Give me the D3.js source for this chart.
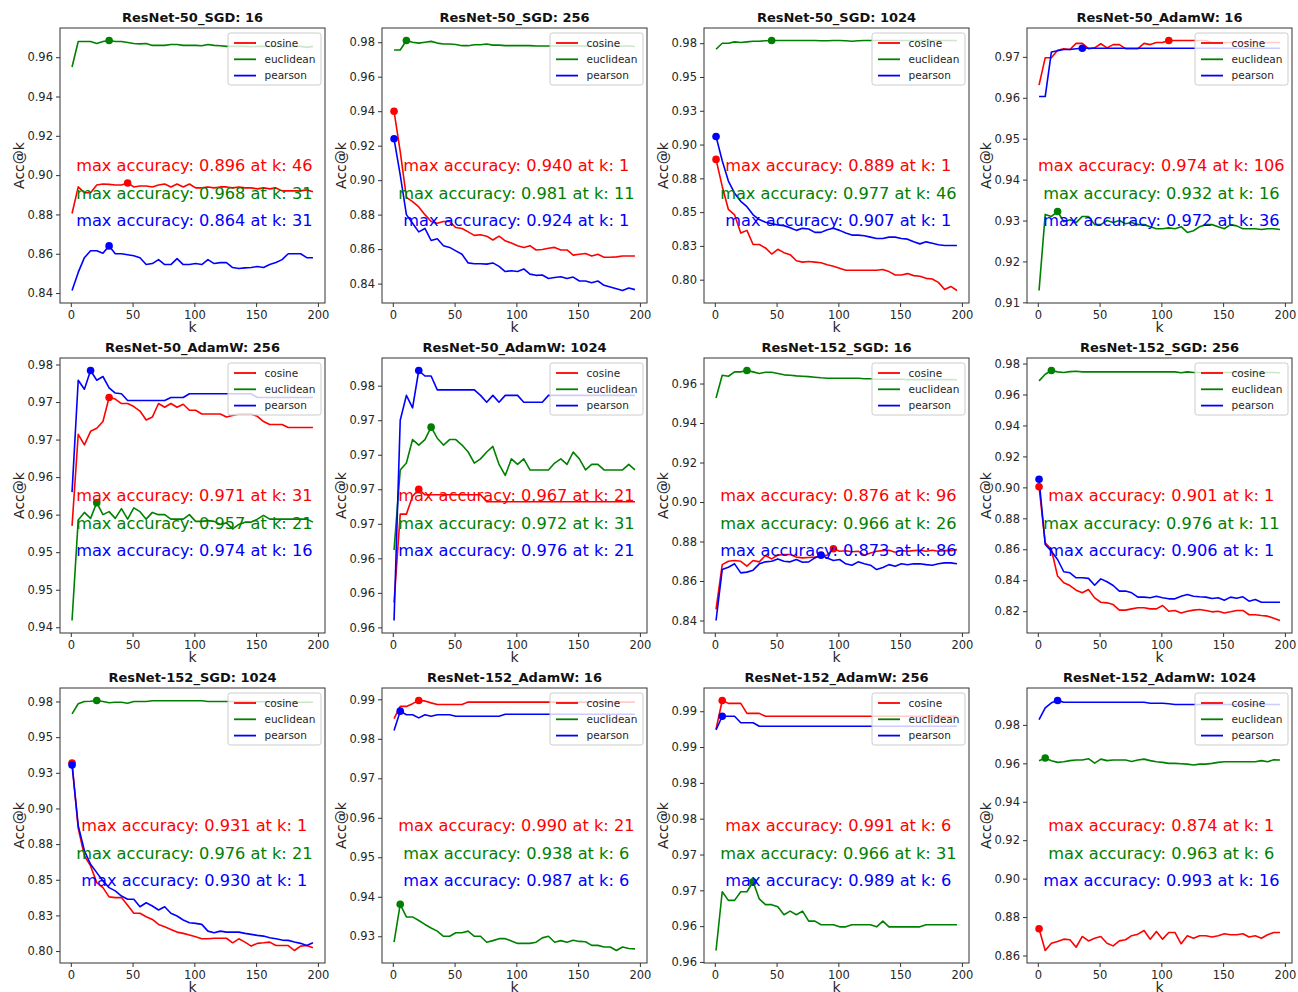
<!DOCTYPE html>
<html>
<head>
<meta charset="utf-8">
<script src="https://cdn.jsdelivr.net/npm/d3@7"></script>
<style>
  body { margin: 0; background: #fff; }
  svg { display: block; font-family: "DejaVu Sans", sans-serif; }
</style>
</head>
<body>
<div id="chart"></div>
<script>
// k values on the x axis
const kValues = [1, 6, 11, 16, 21, 26, 31, 36, 41, 46, 51, 56, 61, 66, 71, 76, 81, 86, 91, 96,
  101, 106, 111, 116, 121, 126, 131, 136, 141, 146, 151, 156, 161, 166, 171, 176, 181, 186, 191, 196];

const titles = [
  'ResNet-50_SGD: 16', 'ResNet-50_SGD: 256', 'ResNet-50_SGD: 1024', 'ResNet-50_AdamW: 16',
  'ResNet-50_AdamW: 256', 'ResNet-50_AdamW: 1024', 'ResNet-152_SGD: 16', 'ResNet-152_SGD: 256',
  'ResNet-152_SGD: 1024', 'ResNet-152_AdamW: 16', 'ResNet-152_AdamW: 256', 'ResNet-152_AdamW: 1024'
];

const seriesNames = ['cosine', 'euclidean', 'pearson'];

const cosine = [
  [0.8805,0.894,0.891,0.891,0.895,0.8955,0.8953,0.895,0.895,0.896,0.894,0.8945,0.8945,0.894,0.895,0.8955,0.894,0.8955,0.894,0.8955,
   0.8935,0.8935,0.894,0.8935,0.894,0.894,0.8935,0.894,0.8935,0.8935,0.893,0.8935,0.893,0.8935,0.892,0.892,0.892,0.892,0.8925,0.8915],
  [0.940,0.9165,0.890,0.8875,0.8845,0.880,0.876,0.875,0.876,0.876,0.8725,0.872,0.870,0.868,0.8683,0.8675,0.8653,0.8675,0.8648,0.8635,
   0.862,0.861,0.862,0.8595,0.8598,0.8605,0.861,0.8595,0.8595,0.8565,0.857,0.8575,0.856,0.857,0.8553,0.8553,0.8555,0.856,0.856,0.856],
  [0.889,0.869,0.852,0.848,0.8345,0.8365,0.826,0.826,0.8235,0.819,0.8225,0.820,0.8185,0.814,0.813,0.8135,0.813,0.8125,0.811,0.810,
   0.8085,0.807,0.807,0.807,0.807,0.807,0.807,0.8075,0.806,0.8035,0.8035,0.8045,0.803,0.8025,0.801,0.8005,0.798,0.7928,0.795,0.792],
  [0.9631,0.9698,0.9698,0.9716,0.972,0.9718,0.9733,0.9733,0.972,0.9722,0.9732,0.9722,0.973,0.973,0.972,0.972,0.972,0.9733,0.973,0.9735,
   0.9735,0.974,0.974,0.974,0.974,0.974,0.974,0.974,0.9735,0.9735,0.9735,0.9735,0.9735,0.9735,0.9735,0.9735,0.9735,0.9735,0.9735,0.9735],
  [0.9535,0.9657,0.9643,0.9661,0.9665,0.9674,0.9706,0.9704,0.9698,0.9698,0.9694,0.9688,0.9676,0.968,0.9698,0.9693,0.9698,0.9693,0.9697,0.9689,
   0.9689,0.9684,0.9684,0.9684,0.9684,0.968,0.9682,0.9684,0.9684,0.9684,0.9681,0.9674,0.967,0.967,0.967,0.9666,0.9666,0.9666,0.9666,0.9666],
  [0.9593,0.9657,0.9657,0.967,0.9675,0.9671,0.9671,0.9671,0.9671,0.9671,0.9671,0.9671,0.9671,0.9671,0.9671,0.9666,0.9666,0.9666,0.9666,0.9666,
   0.9666,0.9666,0.9666,0.9666,0.9666,0.9666,0.9666,0.9666,0.9666,0.9666,0.9666,0.9666,0.9666,0.9666,0.9666,0.9666,0.9666,0.9666,0.9666,0.9666],
  [0.8456,0.8683,0.87,0.8704,0.87,0.8675,0.8704,0.8697,0.8729,0.8712,0.8731,0.8734,0.8734,0.8721,0.8717,0.8719,0.8721,0.8726,0.8731,0.8763,
   0.8751,0.8753,0.8748,0.8751,0.8731,0.8742,0.8751,0.8754,0.8756,0.8746,0.8754,0.8751,0.8754,0.8756,0.8751,0.8756,0.8751,0.8754,0.8754,0.8759],
  [0.9004,0.8642,0.8599,0.8427,0.8384,0.8366,0.8336,0.8319,0.834,0.8286,0.8258,0.8254,0.8243,0.8207,0.8207,0.8215,0.8222,0.8222,0.8215,0.8215,
   0.8237,0.82,0.8205,0.8189,0.82,0.8207,0.8211,0.8205,0.8196,0.82,0.8189,0.8196,0.8205,0.8205,0.8177,0.8177,0.8172,0.8168,0.8155,0.814],
  [0.9319,0.886,0.8668,0.8597,0.848,0.8445,0.838,0.8375,0.8375,0.8321,0.8265,0.8265,0.8241,0.8222,0.8187,0.817,0.8152,0.8133,0.8124,0.8112,
   0.810,0.8086,0.8086,0.809,0.809,0.809,0.8058,0.8086,0.8063,0.8035,0.8054,0.8058,0.8063,0.8039,0.8039,0.8039,0.8004,0.8035,0.8039,0.8023],
  [0.9851,0.9882,0.9882,0.9889,0.9897,0.9896,0.9891,0.9887,0.9887,0.9887,0.9887,0.9887,0.9893,0.9893,0.9893,0.9893,0.9893,0.9893,0.9893,0.9893,
   0.9893,0.9893,0.9893,0.9893,0.9893,0.9893,0.9893,0.9893,0.9893,0.9893,0.9893,0.9893,0.9893,0.9893,0.9893,0.9893,0.9893,0.9893,0.9893,0.9893],
  [0.9875,0.9915,0.9911,0.9911,0.9911,0.9897,0.9897,0.9897,0.9893,0.9893,0.9893,0.9893,0.9893,0.9893,0.9893,0.9893,0.9893,0.9893,0.9893,0.9893,
   0.9893,0.9893,0.9893,0.9893,0.9893,0.9893,0.9893,0.9893,0.9893,0.9893,0.9893,0.9893,0.9893,0.9893,0.9893,0.9893,0.9893,0.9893,0.9893,0.9893],
  [0.8739,0.8626,0.8664,0.8673,0.8685,0.8682,0.8643,0.8699,0.8676,0.869,0.8699,0.8664,0.865,0.8676,0.8682,0.8703,0.8711,0.873,0.8685,0.8725,
   0.8685,0.872,0.872,0.8661,0.8703,0.869,0.8703,0.8703,0.8696,0.8703,0.8713,0.8708,0.8708,0.8713,0.8696,0.8703,0.869,0.8708,0.872,0.872]
];

const euclidean = [
  [0.955,0.968,0.968,0.968,0.967,0.968,0.9685,0.968,0.968,0.9675,0.967,0.9668,0.967,0.966,0.966,0.966,0.9665,0.9665,0.966,0.966,
   0.966,0.9658,0.9665,0.966,0.9658,0.9655,0.9655,0.9655,0.9655,0.9653,0.9655,0.9655,0.9655,0.9655,0.9653,0.9653,0.9655,0.9655,0.965,0.9655],
  [0.9755,0.9755,0.981,0.980,0.9795,0.980,0.9805,0.9795,0.979,0.979,0.9787,0.978,0.978,0.9785,0.9785,0.979,0.9783,0.9783,0.978,0.978,
   0.978,0.978,0.978,0.9778,0.9778,0.9778,0.9778,0.9778,0.9778,0.9778,0.9778,0.9778,0.9778,0.9778,0.9778,0.9778,0.9778,0.9778,0.9778,0.9775],
  [0.9705,0.975,0.975,0.976,0.9755,0.976,0.9765,0.9765,0.9768,0.977,0.977,0.977,0.977,0.977,0.977,0.977,0.977,0.9768,0.9768,0.977,
   0.977,0.9768,0.9765,0.9768,0.977,0.977,0.977,0.977,0.977,0.977,0.977,0.977,0.977,0.977,0.977,0.977,0.977,0.977,0.977,0.977],
  [0.9129,0.9315,0.931,0.9322,0.9297,0.9302,0.9295,0.931,0.931,0.929,0.929,0.930,0.9295,0.930,0.9292,0.9295,0.929,0.929,0.9285,0.928,
   0.928,0.9282,0.928,0.9285,0.9271,0.9275,0.9285,0.929,0.929,0.9285,0.928,0.929,0.9287,0.928,0.928,0.928,0.9278,0.928,0.928,0.9278],
  [0.9409,0.9543,0.9553,0.9545,0.9566,0.955,0.9554,0.9545,0.9558,0.9544,0.9559,0.9554,0.9544,0.9553,0.955,0.955,0.9544,0.9544,0.9544,0.955,
   0.9541,0.9541,0.9542,0.9541,0.9537,0.9539,0.9531,0.9537,0.954,0.954,0.9544,0.9549,0.9544,0.9544,0.9544,0.9544,0.9544,0.9544,0.9544,0.954],
  [0.9631,0.9689,0.9694,0.9711,0.9707,0.9711,0.972,0.9712,0.9707,0.9711,0.9711,0.9707,0.9702,0.9694,0.9697,0.9702,0.9706,0.9693,0.9685,0.9697,
   0.9693,0.9697,0.9689,0.9689,0.9689,0.9689,0.9694,0.9697,0.9693,0.9702,0.9697,0.9689,0.9693,0.9693,0.9689,0.9689,0.9689,0.9689,0.9693,0.9689],
  [0.9527,0.9642,0.9637,0.9659,0.9659,0.9666,0.9659,0.9651,0.9657,0.9657,0.9651,0.9644,0.9642,0.9639,0.9637,0.9635,0.9632,0.9629,0.9627,0.9627,
   0.9627,0.9627,0.9627,0.9627,0.9624,0.9624,0.9622,0.9622,0.9622,0.9622,0.9622,0.962,0.962,0.962,0.962,0.962,0.962,0.962,0.962,0.9619],
  [0.9688,0.9731,0.9755,0.9746,0.9742,0.9748,0.975,0.9746,0.9746,0.9746,0.9746,0.9746,0.9746,0.9746,0.9746,0.9746,0.9746,0.9746,0.9746,0.9746,
   0.9746,0.9746,0.9746,0.974,0.9746,0.9742,0.9742,0.9742,0.9742,0.9742,0.9742,0.9742,0.9742,0.9742,0.9742,0.9742,0.9742,0.9742,0.9742,0.974],
  [0.9663,0.9734,0.975,0.9752,0.9757,0.975,0.9741,0.9745,0.9745,0.9738,0.975,0.975,0.975,0.9755,0.9755,0.9755,0.9755,0.9755,0.9755,0.9755,
   0.9755,0.9755,0.975,0.975,0.975,0.975,0.975,0.975,0.975,0.975,0.9748,0.9748,0.9748,0.9748,0.9748,0.9748,0.9745,0.9745,0.9745,0.9745],
  [0.9285,0.9381,0.9349,0.9349,0.934,0.933,0.9321,0.9313,0.93,0.93,0.9309,0.9309,0.9313,0.93,0.93,0.9285,0.9289,0.9294,0.9294,0.9288,
   0.9282,0.9282,0.9282,0.9285,0.9296,0.93,0.9285,0.9289,0.9285,0.929,0.9287,0.9286,0.9277,0.9277,0.9273,0.9273,0.9264,0.9273,0.9269,0.9268],
  [0.9566,0.9648,0.9636,0.9636,0.9648,0.9648,0.9662,0.9638,0.963,0.963,0.9627,0.9616,0.9621,0.9616,0.9621,0.9607,0.9607,0.9602,0.9602,0.9602,
   0.9599,0.9599,0.9602,0.9602,0.9602,0.9602,0.9599,0.9607,0.9599,0.9599,0.9599,0.9599,0.9599,0.9599,0.9602,0.9602,0.9602,0.9602,0.9602,0.9602],
  [0.9614,0.9628,0.9614,0.9605,0.9608,0.9614,0.9617,0.9617,0.9624,0.9601,0.9622,0.9614,0.9617,0.9617,0.9617,0.961,0.9617,0.9622,0.9614,0.9608,
   0.9605,0.96,0.96,0.9598,0.9596,0.9591,0.9596,0.9596,0.96,0.9605,0.9608,0.9608,0.9608,0.9608,0.9608,0.9608,0.9614,0.9608,0.9619,0.9617]
];

const pearson = [
  [0.8413,0.8505,0.858,0.8615,0.8615,0.8603,0.864,0.860,0.860,0.8595,0.859,0.858,0.8545,0.855,0.857,0.8545,0.8545,0.8575,0.8545,0.8545,
   0.855,0.8545,0.857,0.855,0.8555,0.8555,0.853,0.8525,0.8528,0.853,0.8535,0.853,0.8545,0.8555,0.857,0.860,0.860,0.860,0.858,0.858],
  [0.924,0.903,0.880,0.875,0.870,0.872,0.865,0.866,0.862,0.861,0.859,0.857,0.852,0.8515,0.8515,0.8513,0.852,0.850,0.847,0.8475,
   0.847,0.8485,0.8455,0.8448,0.845,0.843,0.8435,0.844,0.843,0.8438,0.8415,0.8415,0.8405,0.8415,0.839,0.838,0.837,0.836,0.8375,0.8365],
  [0.906,0.888,0.873,0.864,0.858,0.854,0.848,0.8445,0.8425,0.8415,0.8405,0.840,0.8385,0.8365,0.838,0.8375,0.835,0.835,0.837,0.838,
   0.8365,0.8345,0.833,0.833,0.8325,0.8315,0.8305,0.8305,0.8315,0.8315,0.8305,0.830,0.828,0.8265,0.828,0.827,0.8258,0.8253,0.8253,0.8253],
  [0.9603,0.9603,0.9712,0.9715,0.9718,0.9718,0.972,0.9721,0.9721,0.9721,0.9721,0.9721,0.9721,0.9721,0.9721,0.9721,0.9721,0.9721,0.9721,0.9721,
   0.9721,0.9721,0.9721,0.9721,0.9721,0.9721,0.9721,0.9721,0.9721,0.9721,0.9721,0.9721,0.9721,0.9721,0.9721,0.9721,0.9721,0.9721,0.9721,0.9721],
  [0.958,0.9729,0.9717,0.9742,0.9729,0.9734,0.9719,0.9712,0.9711,0.9702,0.9702,0.9702,0.9702,0.9702,0.9702,0.9702,0.9706,0.9706,0.9706,0.9711,
   0.9711,0.9711,0.9711,0.9711,0.9711,0.9711,0.9711,0.9711,0.9711,0.9711,0.9706,0.9706,0.9706,0.9706,0.9706,0.9706,0.9706,0.9706,0.9706,0.9706],
  [0.958,0.9725,0.9743,0.9734,0.9761,0.9757,0.9757,0.9747,0.9747,0.9747,0.9747,0.9747,0.9747,0.9747,0.9743,0.9738,0.9743,0.9738,0.9743,0.9743,
   0.9743,0.9738,0.9738,0.9738,0.9738,0.9743,0.9743,0.9743,0.9743,0.9743,0.9743,0.9743,0.9743,0.9743,0.9743,0.9743,0.9743,0.9743,0.9743,0.9743],
  [0.84,0.8658,0.867,0.8687,0.8641,0.8645,0.8655,0.8687,0.8697,0.87,0.8712,0.87,0.8697,0.8709,0.8695,0.8697,0.8717,0.8731,0.8717,0.8704,
   0.8709,0.8687,0.868,0.8697,0.8687,0.868,0.8658,0.8668,0.8683,0.8675,0.8687,0.8682,0.8687,0.8687,0.8683,0.868,0.8687,0.8692,0.8692,0.8687],
  [0.9052,0.8631,0.8588,0.8534,0.8455,0.8448,0.8416,0.8416,0.8412,0.8368,0.8409,0.839,0.8366,0.833,0.833,0.8319,0.8291,0.8291,0.8287,0.8297,
   0.8287,0.828,0.828,0.8297,0.8308,0.8297,0.8293,0.8291,0.8282,0.8287,0.8271,0.8291,0.8284,0.8293,0.8265,0.8276,0.8258,0.8258,0.8258,0.8258],
  [0.9305,0.888,0.8703,0.8609,0.855,0.8492,0.8445,0.8422,0.8386,0.8363,0.8363,0.8311,0.8339,0.8316,0.8288,0.8311,0.8265,0.8246,0.8218,0.8199,
   0.8194,0.8187,0.814,0.8129,0.814,0.8133,0.8133,0.8133,0.8124,0.8117,0.811,0.8105,0.8094,0.8086,0.8077,0.8075,0.8063,0.8054,0.8039,0.8058],
  [0.9821,0.987,0.9861,0.9861,0.9853,0.9861,0.9857,0.9861,0.9861,0.9861,0.9857,0.9857,0.9857,0.9857,0.9857,0.9857,0.9857,0.9857,0.9862,0.9862,
   0.9862,0.9862,0.9862,0.9862,0.9862,0.9862,0.9862,0.9862,0.9862,0.9862,0.9862,0.9862,0.9862,0.9862,0.9862,0.9862,0.9862,0.9862,0.9862,0.9862],
  [0.9874,0.9893,0.9893,0.9893,0.9884,0.9884,0.9884,0.9879,0.9879,0.9879,0.9879,0.9879,0.9879,0.9879,0.9879,0.9879,0.9879,0.9879,0.9879,0.9879,
   0.9879,0.9879,0.9879,0.9879,0.9879,0.9879,0.9879,0.9879,0.9879,0.9879,0.9879,0.9879,0.9879,0.9879,0.9879,0.9879,0.9879,0.9879,0.9879,0.9879],
  [0.9828,0.9889,0.9915,0.9927,0.9918,0.9918,0.9918,0.9918,0.9918,0.9918,0.9918,0.9918,0.9918,0.9918,0.9918,0.9918,0.9918,0.9918,0.9913,0.9913,
   0.9913,0.991,0.9906,0.9906,0.9906,0.9906,0.9906,0.9906,0.9906,0.9906,0.9906,0.9906,0.9906,0.9906,0.9906,0.9906,0.9906,0.9906,0.9906,0.9906]
];

// "max accuracy" annotations as printed on each panel: [value, k] for cosine, euclidean, pearson
const maxAccuracy = [
  [[0.896, 46], [0.968, 31], [0.864, 31]],
  [[0.940, 1], [0.981, 11], [0.924, 1]],
  [[0.889, 1], [0.977, 46], [0.907, 1]],
  [[0.974, 106], [0.932, 16], [0.972, 36]],
  [[0.971, 31], [0.957, 21], [0.974, 16]],
  [[0.967, 21], [0.972, 31], [0.976, 21]],
  [[0.876, 96], [0.966, 26], [0.873, 86]],
  [[0.901, 1], [0.976, 11], [0.906, 1]],
  [[0.931, 1], [0.976, 21], [0.930, 1]],
  [[0.990, 21], [0.938, 6], [0.987, 6]],
  [[0.991, 6], [0.966, 31], [0.989, 6]],
  [[0.874, 1], [0.963, 6], [0.993, 16]]
];

const yTicks = [
  [0.84, 0.86, 0.88, 0.90, 0.92, 0.94, 0.96],
  [0.84, 0.86, 0.88, 0.90, 0.92, 0.94, 0.96, 0.98],
  [0.80, 0.825, 0.85, 0.875, 0.90, 0.925, 0.95, 0.975],
  [0.91, 0.92, 0.93, 0.94, 0.95, 0.96, 0.97],
  [0.94, 0.945, 0.95, 0.955, 0.96, 0.965, 0.97, 0.975],
  [0.9575, 0.96, 0.9625, 0.965, 0.9675, 0.97, 0.9725, 0.975],
  [0.84, 0.86, 0.88, 0.90, 0.92, 0.94, 0.96],
  [0.82, 0.84, 0.86, 0.88, 0.90, 0.92, 0.94, 0.96, 0.98],
  [0.80, 0.825, 0.85, 0.875, 0.90, 0.925, 0.95, 0.975],
  [0.93, 0.94, 0.95, 0.96, 0.97, 0.98, 0.99],
  [0.955, 0.96, 0.965, 0.97, 0.975, 0.98, 0.985, 0.99],
  [0.86, 0.88, 0.90, 0.92, 0.94, 0.96, 0.98]
];
const xTicks = [0, 50, 100, 150, 200];

const colors = ['#ff0000', '#008000', '#0000ff'];
const width = 1298, height = 992;
const colLeft = [60, 382, 704, 1027];
const rowTop = [28, 358, 688];
const axW = 265, axH = 275;

// tick labels are printed with two decimals, halves rounded up
const fmt2 = (v) => (Math.round(v * 100 + 1e-6) / 100).toFixed(2);

const svg = d3.select('#chart')
  .append('svg')
  .attr('width', width)
  .attr('height', height);

svg.append('rect').attr('width', width).attr('height', height).attr('fill', '#fff');

titles.forEach((title, p) => {
  const left = colLeft[p % 4];
  const top = rowTop[Math.floor(p / 4)];
  const series = [cosine[p], euclidean[p], pearson[p]];

  const x = d3.scaleLinear()
    .domain([1 - 9.75, 196 + 9.75])
    .range([0, axW]);
  const [lo, hi] = d3.extent(series.flat());
  const pad = (hi - lo) * 0.05;
  const y = d3.scaleLinear()
    .domain([lo - pad, hi + pad])
    .range([axH, 0]);

  const g = svg.append('g').attr('transform', `translate(${left},${top})`);

  // x axis
  const xAxis = g.append('g')
    .attr('transform', `translate(0,${axH})`)
    .call(d3.axisBottom(x).tickValues(xTicks).tickSize(4).tickPadding(4).tickFormat(d3.format('d')));
  // y axis
  const yAxis = g.append('g')
    .call(d3.axisLeft(y).tickValues(yTicks[p]).tickSize(4).tickPadding(3).tickFormat(fmt2));
  [xAxis, yAxis].forEach((ax) => {
    ax.select('.domain').remove();
    ax.selectAll('line').attr('stroke', '#333');
    ax.selectAll('text').attr('fill', '#262626').attr('font-size', '11.5px')
      .attr('font-family', '"DejaVu Sans", sans-serif');
  });

  // frame
  g.append('rect')
    .attr('width', axW).attr('height', axH)
    .attr('fill', 'none').attr('stroke', '#333').attr('stroke-width', 1);

  const line = d3.line()
    .x((d, i) => x(kValues[i]))
    .y((d) => y(d));

  series.forEach((vals, s) => {
    g.append('path')
      .datum(vals)
      .attr('d', line)
      .attr('fill', 'none')
      .attr('stroke', colors[s])
      .attr('stroke-width', 1.6)
      .attr('stroke-linejoin', 'round');
  });

  series.forEach((vals, s) => {
    const mi = d3.maxIndex(vals);
    g.append('circle')
      .attr('cx', x(kValues[mi]))
      .attr('cy', y(vals[mi]))
      .attr('r', 3.8)
      .attr('fill', colors[s]);
  });

  // annotation texts
  maxAccuracy[p].forEach(([v, k], s) => {
    g.append('text')
      .attr('x', x(100))
      .attr('y', axH * (0.5 + 0.1 * s) + 5.5)
      .attr('text-anchor', 'middle')
      .attr('font-size', '16.2px')
      .attr('fill', colors[s])
      .text(`max accuracy: ${v.toFixed(3)} at k: ${k}`);
  });

  // legend
  const lgW = 93, lgH = 52;
  const lg = g.append('g').attr('transform', `translate(${axW - 4 - lgW},5)`);
  lg.append('rect')
    .attr('width', lgW).attr('height', lgH)
    .attr('rx', 2.5)
    .attr('fill', 'rgba(255,255,255,0.8)')
    .attr('stroke', '#cccccc').attr('stroke-width', 1);
  seriesNames.forEach((name, s) => {
    const cy = 10 + s * 16.3;
    lg.append('line')
      .attr('x1', 6).attr('x2', 28)
      .attr('y1', cy).attr('y2', cy)
      .attr('stroke', colors[s]).attr('stroke-width', 1.8);
    lg.append('text')
      .attr('x', 36.5).attr('y', cy + 3.8)
      .attr('font-size', '10.5px')
      .attr('fill', '#262626')
      .text(name);
  });

  // titles and axis labels
  g.append('text')
    .attr('x', axW / 2).attr('y', -6)
    .attr('text-anchor', 'middle')
    .attr('font-size', '13px')
    .attr('font-weight', 'bold')
    .attr('fill', '#111')
    .text(title);
  g.append('text')
    .attr('x', axW / 2).attr('y', axH + 29)
    .attr('text-anchor', 'middle')
    .attr('font-size', '14px')
    .attr('fill', '#262626')
    .text('k');
  g.append('text')
    .attr('transform', `translate(-36,${axH / 2}) rotate(-90)`)
    .attr('text-anchor', 'middle')
    .attr('font-size', '14px')
    .attr('fill', '#262626')
    .text('Acc@k');
});
</script>
</body>
</html>
